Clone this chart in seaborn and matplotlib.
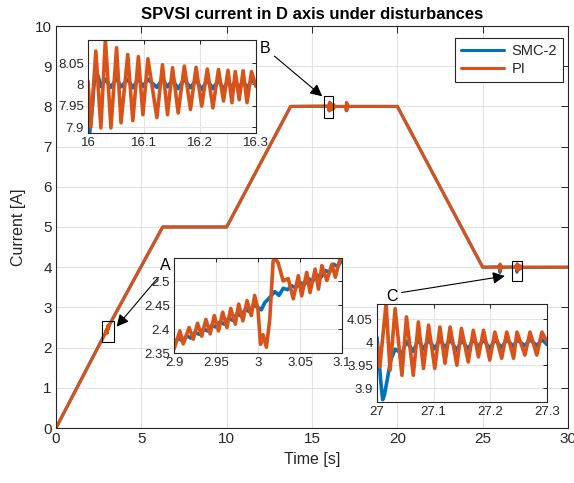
import numpy as np
import pandas as pd
import matplotlib
matplotlib.use("Agg")
import matplotlib.pyplot as plt
from matplotlib.patches import Rectangle
import seaborn as sns

# ---------------- data ----------------
series_names = ["SMC-2", "PI"]
colors = ["#0072BD", "#D95319"]

# reference profile (breakpoints of the current reference)
main_t = [0, 6.25, 10, 13.75, 20, 25, 30]
main_v = [0, 5, 5, 8, 8, 4, 4]

# zoom A (disturbance at t=3 on the ramp)
a_pi_t = [2.900, 2.907, 2.911, 2.918, 2.923, 2.928, 2.933, 2.938, 2.943, 2.948, 2.953,
          2.958, 2.963, 2.9675, 2.973, 2.977, 2.982, 2.987, 2.992, 2.996, 3.000, 3.003,
          3.006, 3.010, 3.014, 3.018, 3.021, 3.024, 3.030, 3.036, 3.042, 3.048, 3.052,
          3.058, 3.062, 3.068, 3.072, 3.076, 3.082, 3.088, 3.092, 3.098, 3.100]
a_pi_v = [2.358, 2.396, 2.369, 2.403, 2.379, 2.412, 2.385, 2.420, 2.390, 2.428, 2.396,
          2.435, 2.403, 2.443, 2.410, 2.452, 2.417, 2.459, 2.428, 2.470, 2.440, 2.368,
          2.388, 2.362, 2.420, 2.542, 2.545, 2.538, 2.500, 2.505, 2.463, 2.511, 2.469,
          2.518, 2.476, 2.525, 2.483, 2.532, 2.501, 2.535, 2.508, 2.549, 2.545]
a_smc_t = [2.900, 2.905, 2.910, 2.915, 2.920, 2.925, 2.930, 2.935, 2.940, 2.945, 2.950,
           2.955, 2.960, 2.965, 2.970, 2.975, 2.980, 2.985, 2.990, 2.995, 3.000, 3.004,
           3.008, 3.012, 3.016, 3.020, 3.025, 3.030, 3.035, 3.040, 3.045, 3.050, 3.055,
           3.060, 3.065, 3.070, 3.075, 3.080, 3.085, 3.090, 3.095, 3.100]
a_smc_v = [2.372, 2.380, 2.376, 2.386, 2.381, 2.393, 2.389, 2.400, 2.396, 2.408, 2.404,
           2.415, 2.410, 2.423, 2.418, 2.432, 2.427, 2.441, 2.436, 2.450, 2.445, 2.440,
           2.455, 2.462, 2.470, 2.478, 2.470, 2.485, 2.482, 2.490, 2.486, 2.497, 2.492,
           2.505, 2.500, 2.513, 2.508, 2.522, 2.518, 2.535, 2.530, 2.545]

# zoom B (disturbance at t=16 on the 8 A plateau)
b_pi_t = [16.000, 16.005, 16.014, 16.023, 16.031, 16.041, 16.051, 16.059, 16.071, 16.080,
          16.090, 16.098, 16.107, 16.123, 16.133, 16.142, 16.151, 16.161, 16.172, 16.183,
          16.193, 16.203, 16.213, 16.223, 16.233, 16.242, 16.250, 16.257, 16.263, 16.270,
          16.277, 16.284, 16.292, 16.300]
b_pi_v = [8.008, 7.900, 8.078, 7.898, 8.105, 7.898, 8.086, 7.910, 8.070, 7.915,
          8.065, 7.929, 8.060, 7.922, 8.046, 7.929, 8.039, 7.933, 8.043, 7.941,
          8.040, 7.949, 8.036, 7.945, 8.035, 7.961, 8.033, 7.957, 8.030, 7.964,
          8.032, 7.957, 8.030, 7.995]
b_smc_t = [16.000, 16.003, 16.008, 16.012, 16.018, 16.023, 16.031, 16.041, 16.051, 16.059,
           16.071, 16.080, 16.090, 16.098, 16.107, 16.123, 16.133, 16.142, 16.151, 16.161,
           16.172, 16.183, 16.193, 16.203, 16.213, 16.223, 16.233, 16.242, 16.250, 16.257,
           16.263, 16.270, 16.277, 16.284, 16.292, 16.300]
b_smc_v = [8.005, 7.886, 7.950, 8.022, 8.020, 7.995, 8.012, 7.993, 8.014, 7.994,
           8.012, 7.992, 8.013, 7.995, 8.012, 7.993, 8.012, 7.994, 8.011, 7.990,
           8.012, 7.992, 8.011, 7.988, 8.010, 7.990, 8.010, 7.988, 8.009, 7.990,
           8.010, 7.989, 8.010, 7.990, 8.010, 8.000]

# zoom C (disturbance at t=27 on the 4 A plateau)
c_pi_t = [27.000, 27.005, 27.016, 27.023, 27.032, 27.044, 27.052, 27.064, 27.073, 27.082,
          27.091, 27.102, 27.111, 27.120, 27.129, 27.141, 27.149, 27.161, 27.170, 27.179,
          27.188, 27.199, 27.208, 27.220, 27.229, 27.241, 27.247, 27.261, 27.270, 27.282,
          27.291, 27.300]
c_pi_v = [3.997, 3.946, 4.084, 3.939, 4.073, 3.928, 4.055, 3.928, 4.044, 3.943,
          4.037, 3.943, 4.033, 3.954, 4.033, 3.950, 4.030, 3.957, 4.026, 3.968,
          4.026, 3.961, 4.022, 3.965, 4.022, 3.965, 4.022, 3.972, 4.022, 3.972,
          4.022, 4.001]
c_smc_t = [27.000, 27.004, 27.007, 27.010, 27.013, 27.018, 27.024, 27.032, 27.044, 27.052,
           27.064, 27.073, 27.082, 27.091, 27.102, 27.111, 27.120, 27.129, 27.141, 27.149,
           27.161, 27.170, 27.179, 27.188, 27.199, 27.208, 27.220, 27.229, 27.241, 27.247,
           27.261, 27.270, 27.282, 27.291, 27.300]
c_smc_v = [4.010, 3.955, 3.910, 3.875, 3.885, 3.918, 3.960, 3.985, 3.975, 4.002,
           3.980, 4.006, 3.985, 4.005, 3.986, 4.006, 3.988, 4.006, 3.982, 4.005,
           3.985, 4.006, 3.990, 4.006, 3.986, 4.006, 3.988, 4.006, 3.990, 4.006,
           3.992, 4.006, 3.992, 4.006, 3.995]

# other disturbances visible only in the main view
d17_t = [17.000, 17.010, 17.020, 17.030, 17.045, 17.065, 17.090, 17.120]
d17_pi_v = [8.000, 7.900, 8.100, 7.900, 8.080, 7.930, 8.050, 8.000]
d17_smc_v = [8.000, 7.890, 8.020, 7.995, 8.010, 7.995, 8.005, 8.000]
d26_t = [26.000, 26.010, 26.020, 26.030, 26.045, 26.065, 26.090, 26.120]
d26_pi_v = [4.000, 3.940, 4.080, 3.930, 4.060, 3.950, 4.030, 4.000]
d26_smc_v = [4.010, 3.870, 3.900, 3.960, 4.005, 3.985, 4.003, 4.000]

# zoom windows
zoom_xlim = {"A": (2.9, 3.1), "B": (16.0, 16.3), "C": (27.0, 27.3)}
zoom_ylim = {"A": (2.35, 2.548), "B": (7.886, 8.104), "C": (3.87, 4.083)}
zoom_xticks = {"A": [2.9, 2.95, 3.0, 3.05, 3.1], "B": [16.0, 16.1, 16.2, 16.3],
               "C": [27.0, 27.1, 27.2, 27.3]}
zoom_xlabels = {"A": ["2.9", "2.95", "3", "3.05", "3.1"], "B": ["16", "16.1", "16.2", "16.3"],
                "C": ["27", "27.1", "27.2", "27.3"]}
zoom_yticks = {"A": [2.35, 2.4, 2.45, 2.5], "B": [7.9, 7.95, 8.0, 8.05],
               "C": [3.9, 3.95, 4.0, 4.05]}
zoom_ylabels = {"A": ["2.35", "2.4", "2.45", "2.5"], "B": ["7.9", "7.95", "8", "8.05"],
                "C": ["3.9", "3.95", "4", "4.05"]}
# marker boxes drawn on the main axes (x0, x1, y0, y1)
zoom_boxes = {"A": (2.7, 3.4, 2.15, 2.65), "B": (15.72, 16.25, 7.72, 8.27),
              "C": (26.7, 27.28, 3.66, 4.16)}

title = "SPVSI current in D axis under disturbances"
xlabel = "Time [s]"
ylabel = "Current [A]"

# --------------- build series ---------------
def build(extra_t, extra_v):
    t = list(main_t) + [x for seg in extra_t for x in seg]
    v = list(main_v) + [x for seg in extra_v for x in seg]
    df = pd.DataFrame({"t": t, "v": v}).sort_values("t", kind="mergesort")
    return df

df_smc = build([a_smc_t, b_smc_t, d17_t, d26_t, c_smc_t],
               [a_smc_v, b_smc_v, d17_smc_v, d26_smc_v, c_smc_v])
df_pi = build([a_pi_t, b_pi_t, d17_t, d26_t, c_pi_t],
              [a_pi_v, b_pi_v, d17_pi_v, d26_pi_v, c_pi_v])

# --------------- style ---------------
sns.set_theme(style="white")
plt.rcParams["font.family"] = ["Liberation Sans", "DejaVu Sans"]
axc = "#262626"
gridc = "#E3E3E3"

fig = plt.figure(figsize=(5.74, 4.83), dpi=100)
W, H = 574, 483


def axes_px(x0, y0, x1, y1):
    return fig.add_axes([x0 / W, 1 - y1 / H, (x1 - x0) / W, (y1 - y0) / H])


def style(ax, fs, tl):
    for s in ax.spines.values():
        s.set_color(axc)
        s.set_linewidth(0.8)
        s.set_visible(True)
    ax.tick_params(direction="in", length=tl, width=0.7, colors=axc, labelsize=fs,
                   top=True, right=True, labeltop=False, labelright=False, pad=3)
    ax.grid(True, color=gridc, linewidth=0.8)
    ax.set_axisbelow(True)


ax = axes_px(56, 26, 568, 428)
lw = 2.2
sns.lineplot(data=df_smc, x="t", y="v", ax=ax, color=colors[0], linewidth=lw,
             estimator=None, sort=False, label=series_names[0])
sns.lineplot(data=df_pi, x="t", y="v", ax=ax, color=colors[1], linewidth=lw,
             estimator=None, sort=False, label=series_names[1])
ax.set_xlim(0, 30)
ax.set_ylim(0, 10)
ax.set_xticks(range(0, 31, 5))
ax.set_yticks(range(0, 11))
style(ax, 11, 5)
ax.set_title(title, fontsize=12, fontweight="bold", color="black", pad=5)
ax.set_xlabel(xlabel, fontsize=11.5, color=axc, labelpad=4)
ax.set_ylabel(ylabel, fontsize=11.5, color=axc, labelpad=6)
leg = ax.legend(loc="upper right", bbox_to_anchor=(0.990, 0.970), fontsize=10.5,
                frameon=True, fancybox=False, framealpha=1, edgecolor=axc,
                handlelength=3.0, borderpad=0.4, labelspacing=0.3, handletextpad=0.5,
                borderaxespad=0)
leg.get_frame().set_linewidth(0.8)
for ln in leg.get_lines():
    ln.set_linewidth(2.2)

for k, (x0, x1, y0, y1) in zoom_boxes.items():
    ax.add_patch(Rectangle((x0, y0), x1 - x0, y1 - y0, fill=False, ec="black",
                           lw=0.8, zorder=5))

# labels and arrows (text pos, tail, head) in data coords of main axes
arrows = {"A": ((6.4, 4.03), (6.0, 3.75), (3.55, 2.52)),
          "B": ((12.24, 9.45), (12.8, 9.25), (15.6, 8.25)),
          "C": ((19.68, 3.28), (20.25, 3.37), (26.3, 3.78))}
for k, (tp, tail, head) in arrows.items():
    ax.text(tp[0], tp[1], k, fontsize=11.5, color="black", ha="center", va="center")
    ax.annotate("", xy=head, xytext=tail,
                arrowprops=dict(arrowstyle="-|>", color="black", lw=0.8,
                                mutation_scale=18, shrinkA=0, shrinkB=0))

inset_px = {"B": (88, 40, 256, 133), "A": (174, 258, 342, 353), "C": (377, 304, 547, 402)}
for k, (x0, y0, x1, y1) in inset_px.items():
    ia = axes_px(x0, y0, x1, y1)
    ia.set_facecolor("white")
    sns.lineplot(data=df_smc, x="t", y="v", ax=ia, color=colors[0], linewidth=2.6,
                 estimator=None, sort=False, legend=False)
    sns.lineplot(data=df_pi, x="t", y="v", ax=ia, color=colors[1], linewidth=2.6,
                 estimator=None, sort=False, legend=False)
    ia.set_xlim(*zoom_xlim[k])
    ia.set_ylim(*zoom_ylim[k])
    ia.set_xticks(zoom_xticks[k])
    ia.set_xticklabels(zoom_xlabels[k])
    ia.set_yticks(zoom_yticks[k])
    ia.set_yticklabels(zoom_ylabels[k])
    ia.set_xlabel("")
    ia.set_ylabel("")
    style(ia, 9.5, 3)

fig.savefig("out.png", dpi=100, facecolor="white")
